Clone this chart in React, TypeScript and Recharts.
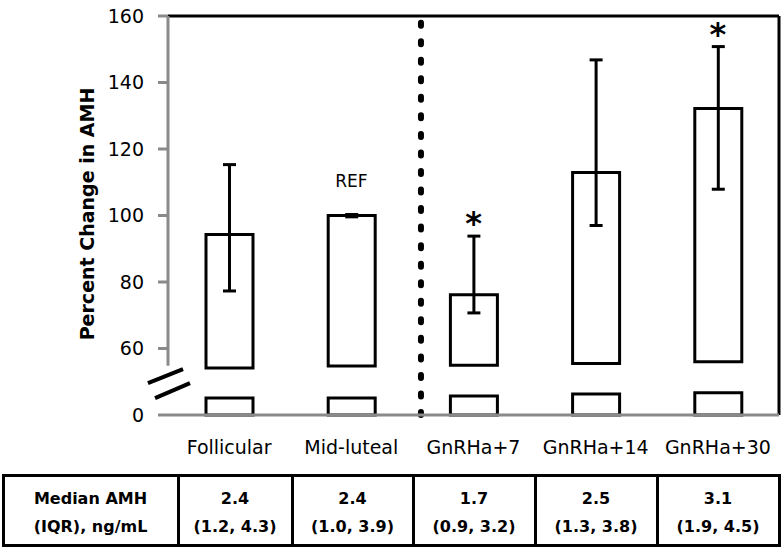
import React from 'react';
import { BarChart, Bar, XAxis, YAxis, ErrorBar, ReferenceLine, ReferenceDot } from 'recharts';

// ---- data ----
const categories = ['Follicular', 'Mid-luteal', 'GnRHa+7', 'GnRHa+14', 'GnRHa+30'];
const meanPct = [94.3, 100, 76.2, 112.9, 132.2];
const ciLowPct = [77.3, 99.6, 70.7, 97.0, 107.9];
const ciHighPct = [115.3, 100.3, 93.8, 146.8, 150.8];
const barBasePct = [54.1, 54.7, 55.0, 55.5, 56.0]; // where the bar resumes above the axis break
const stubTop = [5.1, 5.1, 5.7, 6.3, 6.7]; // height of bar stub below the break (axis units)
const starred = [false, false, true, false, true];
const refIndex = 1;
const refLabelPct = 110.5;
const medianAMH = ['2.4', '2.4', '1.7', '2.5', '3.1'];
const iqrAMH = ['(1.2, 4.3)', '(1.0, 3.9)', '(0.9, 3.2)', '(1.3, 3.8)', '(1.9, 4.5)'];
const yTickPositions = [0, 20, 40, 60, 80, 100, 120];
const yTickLabels = ['0', '60', '80', '100', '120', '140', '160'];
const dividerPosition = 2.07; // between Mid-luteal and GnRHa+7 (band units)
const axisBreakPct = 54.8;

const BREAK_SHIFT = 40; // above the break: axis units = percent - 40
const toAxis = (p: number) => p - BREAK_SHIFT;

const data = categories.map((name, i) => ({
  name,
  pos: i + 0.5,
  stub: stubTop[i],
  gap: toAxis(barBasePct[i]) - stubTop[i],
  main: meanPct[i] - barBasePct[i],
  err: [meanPct[i] - ciLowPct[i], ciHighPct[i] - meanPct[i]],
}));

const GRAY = '#8a8a8a';
const FONT = 'DejaVu Sans';

const YTitle = (props: any) => {
  const vb = props && props.viewBox;
  const cx = vb && typeof vb.x === 'number' ? vb.x + 87 : 87;
  const cy = vb && typeof vb.y === 'number' ? vb.y + vb.height / 2 - 1.5 : 214;
  return (
    <text
      x={cx}
      y={cy}
      transform={`rotate(-90 ${cx} ${cy})`}
      textAnchor="middle"
      dominantBaseline="central"
      fontFamily={FONT}
      fontWeight="bold"
      fontSize={19}
      fill="#000"
    >
      Percent Change in AMH
    </text>
  );
};

const Star = (props: any) => (
  <text x={props.cx} y={props.cy - 2} textAnchor="middle" fontFamily={FONT} fontWeight="bold" fontSize={32} fill="#000">
    *
  </text>
);

const RefText = (props: any) => (
  <text x={props.cx} y={props.cy} textAnchor="middle" dominantBaseline="central" fontFamily={FONT} fontSize={17} fill="#000">
    REF
  </text>
);

const breakMarks = [
  [{ x: -0.164, y: 9.6 }, { x: 0.123, y: 13.8 }],
  [{ x: -0.106, y: 5.1 }, { x: 0.18, y: 9.6 }],
];

const colWidths = [175, 114, 121, 122, 122, 119];

export default function App() {
  return (
    <div style={{ position: 'absolute', left: 0, top: 0, width: 783, height: 549, background: '#fff' }}>
      <BarChart
        width={783}
        height={549}
        data={data}
        margin={{ top: 16, right: 4, left: 0, bottom: 104 }}
        barSize={47}
      >
        <XAxis
          xAxisId="n"
          dataKey="pos"
          type="number"
          domain={[0, 5]}
          ticks={[0, 1, 2, 3, 4, 5]}
          allowDataOverflow
          hide
        />
        <YAxis
          type="number"
          domain={[0, 120]}
          ticks={yTickPositions}
          interval={0}
          width={168}
          axisLine={false}
          tickLine={{ stroke: GRAY, strokeWidth: 3 }}
          tickSize={10}
          tickMargin={14}
          tick={{ fill: '#000', fontSize: 19, fontFamily: FONT }}
          tickFormatter={(v: number) => yTickLabels[yTickPositions.indexOf(v)]}
          label={<YTitle />}
        />
        <Bar dataKey="stub" stackId="a" fill="#fff" stroke="#000" strokeWidth={3} isAnimationActive={false} />
        <Bar dataKey="gap" stackId="a" fill="none" stroke="none" isAnimationActive={false} />
        <Bar dataKey="main" stackId="a" fill="#fff" stroke="#000" strokeWidth={3} isAnimationActive={false}>
          <ErrorBar dataKey="err" direction="y" width={6.5} stroke="#000" strokeWidth={3} />
        </Bar>
        <ReferenceLine y={120} stroke="#000" strokeWidth={3} />
        <ReferenceLine xAxisId="n" x={5} stroke="#000" strokeWidth={3} />
        <ReferenceLine
          xAxisId="n"
          segment={[{ x: 0, y: 120 }, { x: 0, y: toAxis(axisBreakPct) }]}
          stroke={GRAY}
          strokeWidth={3}
        />
        {breakMarks.map((seg, k) => (
          <ReferenceLine key={'bm' + k} xAxisId="n" segment={seg} stroke="#000" strokeWidth={4} ifOverflow="visible" />
        ))}
        <ReferenceLine
          xAxisId="n"
          x={dividerPosition}
          stroke="#000"
          strokeWidth={6}
          strokeDasharray="3 15.54"
          strokeLinecap="round"
        />
        {categories.map((c, i) =>
          starred[i] ? (
            <ReferenceDot key={'s' + i} xAxisId="n" x={i + 0.5} y={toAxis(ciHighPct[i])} r={0} shape={<Star />} />
          ) : null
        )}
        <ReferenceDot xAxisId="n" x={refIndex + 0.5} y={toAxis(refLabelPct)} r={0} shape={<RefText />} />
        <XAxis
          dataKey="name"
          height={30}
          axisLine={{ stroke: GRAY, strokeWidth: 3 }}
          tickLine={false}
          tickSize={0}
          tickMargin={26}
          interval={0}
          tick={{ fill: '#000', fontSize: 19, fontFamily: FONT }}
        />
      </BarChart>
      <div
        style={{
          position: 'absolute',
          left: 1.5,
          top: 473.5,
          width: 779,
          height: 73,
          border: '3px solid #000',
          boxSizing: 'border-box',
          display: 'flex',
          fontFamily: FONT,
          fontWeight: 'bold',
          fontSize: 16,
          color: '#000',
        }}
      >
        {['Median AMH|(IQR), ng/mL', ...medianAMH.map((m, i) => m + '|' + iqrAMH[i])].map((txt, i) => {
          const [a, b] = txt.split('|');
          return (
            <div
              key={i}
              style={{
                width: colWidths[i],
                boxSizing: 'border-box',
                borderRight: i < colWidths.length - 1 ? '3px solid #000' : 'none',
                display: 'flex',
                flexDirection: 'column',
                justifyContent: 'center',
                alignItems: 'center',
                lineHeight: '28px',
                paddingTop: 6,
                whiteSpace: 'nowrap',
              }}
            >
              <div>{a}</div>
              <div>{b}</div>
            </div>
          );
        })}
      </div>
    </div>
  );
}
